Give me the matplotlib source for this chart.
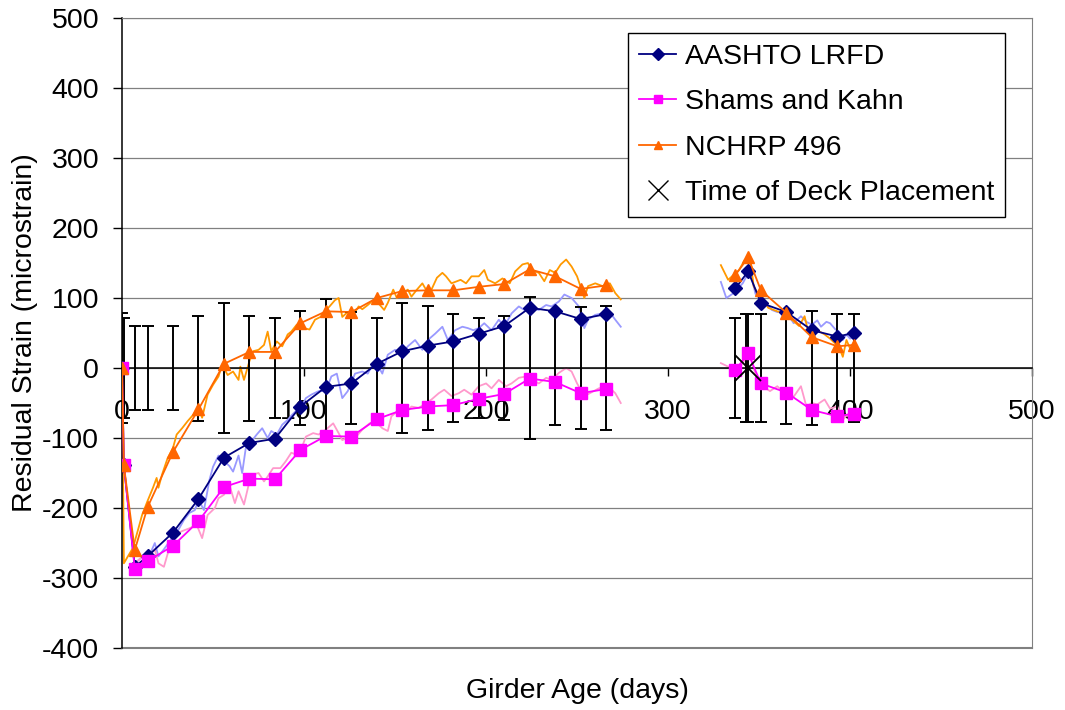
import matplotlib
matplotlib.use('Agg')
import matplotlib.pyplot as plt
import numpy as np

plt.rcParams['font.family'] = ['Liberation Sans', 'DejaVu Sans']
plt.rcParams['font.size'] = 20.5
plt.rcParams['axes.unicode_minus'] = False

# predicted residual strain at the reading dates (before deck)
days_a = [0, 1, 7, 14, 28, 42, 56, 70, 84, 98, 112, 126, 140, 154, 168, 182, 196, 210, 224, 238, 252, 266]
lrfd_a = [0, -139, -284, -269, -235, -187, -128, -107, -101, -55, -27, -22, 6, 24, 32, 38, 49, 60, 86, 81, 70, 77]
shams_a = [0, -139, -287, -276, -254, -219, -170, -158, -159, -117, -97, -98, -73, -60, -55, -53, -44, -37, -15, -20, -36, -30]
nchrp_a = [0, -139, -260, -199, -120, -59, 6, 23, 23, 64, 81, 80, 100, 110, 111, 111, 116, 120, 141, 131, 113, 118]

# after deck placement
days_b = [337, 344, 351, 365, 379, 393, 402]
lrfd_b = [114, 138, 93, 80, 54, 45, 50]
shams_b = [-3, 21, -22, -35, -60, -69, -65]
nchrp_b = [133, 158, 111, 79, 44, 31, 33]

# scatter of the gauge readings (+/- about zero)
bar_days = [0, 1, 7, 14, 28, 42, 56, 70, 84, 98, 112, 126, 140, 154, 168, 182, 196, 210, 224, 238,
            252, 266, 337, 343, 344, 351, 365, 379, 393, 402]
bar_half = [78, 72, 60, 60, 60, 75, 93, 75, 72, 81, 98, 80, 72, 93, 88, 77, 72, 74, 102, 82,
            87, 88, 72, 77, 77, 77, 80, 81, 77, 77]

deck_day = [344]
deck_strain = [0]

# daily predictions (temperature corrected)
lrfd_days1 = [7, 11, 16, 18, 20, 23, 28, 31, 34, 37,
              40, 42, 45, 48, 50, 53, 56, 59, 61, 64,
              66, 68, 71, 74, 77, 80, 82, 85, 88, 91,
              93, 96, 99, 101, 104, 108, 112, 115, 118, 121,
              124, 128, 132, 135, 139, 143, 146, 150, 154, 157,
              161, 165, 168, 172, 176, 179, 183, 187, 190, 193,
              196, 199, 203, 207, 210, 214, 218, 221, 225, 229,
              233, 236, 240, 243, 247, 251, 254, 256, 260, 264,
              267, 271, 274]
lrfd_daily1 = [-279, -270, -262, -250, -269, -259, -241, -231, -217, -207,
               -203, -188, -203, -160, -141, -125, -133, -140, -148, -125,
               -150, -114, -105, -95, -86, -100, -90, -95, -81, -74,
               -68, -60, -53, -43, -38, -33, -33, -12, -8, -43,
               -33, -8, -5, -8, 11, -8, 19, 26, 21, 31,
               40, 26, 40, 49, 59, 40, 54, 59, 57, 54,
               57, 64, 54, 69, 59, 78, 88, 83, 85, 83,
               90, 88, 95, 105, 100, 88, 57, 69, 76, 78,
               83, 69, 59]

shams_days1 = [7, 11, 15, 18, 20, 23, 26, 29, 33, 37,
               41, 44, 47, 51, 53, 56, 59, 62, 64, 67,
               70, 72, 75, 78, 80, 83, 87, 90, 93, 96,
               99, 101, 105, 108, 112, 116, 119, 121, 125, 128,
               132, 136, 139, 143, 146, 148, 152, 156, 159, 163,
               167, 170, 174, 177, 181, 185, 188, 192, 196, 200,
               203, 207, 211, 214, 218, 222, 225, 229, 233, 236,
               240, 244, 247, 250, 254, 257, 262, 267, 271, 274]
shams_daily1 = [-279, -270, -268, -259, -279, -284, -257, -238, -233, -229,
                -224, -243, -210, -200, -186, -181, -167, -193, -176, -195,
                -162, -152, -150, -162, -155, -143, -143, -133, -121, -124,
                -112, -98, -93, -95, -88, -79, -93, -103, -98, -100,
                -88, -79, -76, -86, -90, -69, -60, -64, -55, -57,
                -50, -45, -36, -31, -40, -36, -31, -38, -26, -22,
                -29, -17, -26, -22, -14, -12, -17, -22, -14, -17,
                -7, 0, -5, -22, -40, -36, -29, -26, -36, -50]

nchrp_days1 = [0, 1, 3, 6, 9, 11, 14, 17, 19, 20,
               22, 25, 28, 30, 33, 36, 39, 42, 44, 47,
               50, 53, 55, 58, 61, 64, 65, 67, 70, 72,
               75, 78, 80, 82, 85, 88, 91, 93, 96, 100,
               103, 106, 109, 111, 114, 117, 119, 121, 124, 127,
               130, 132, 135, 138, 141, 144, 146, 149, 151, 154,
               157, 159, 162, 165, 167, 170, 173, 176, 178, 181,
               184, 186, 189, 192, 196, 199, 201, 205, 209, 213,
               216, 220, 223, 225, 229, 232, 235, 238, 241, 244,
               247, 250, 254, 256, 260, 264, 268, 271, 274]
nchrp_daily1 = [0, -279, -270, -257, -229, -210, -190, -171, -157, -171,
                -152, -129, -114, -95, -86, -76, -67, -57, -71, -38,
                -24, -12, 5, -10, -5, -17, 2, -17, 10, 24,
                26, 33, 52, 24, 38, 31, 48, 52, 62, 57,
                55, 69, 73, 80, 88, 97, 100, 73, 80, 76,
                88, 84, 90, 97, 92, 83, 93, 112, 100, 107,
                112, 102, 112, 121, 112, 112, 129, 136, 131, 121,
                124, 126, 121, 131, 131, 140, 126, 121, 128, 121,
                138, 148, 150, 140, 136, 124, 140, 136, 148, 155,
                145, 131, 100, 117, 121, 117, 121, 107, 98]

lrfd_days2 = [329, 332, 336, 341, 345, 348, 351, 354, 357, 360, 364, 367, 369,
              373, 376, 379, 382, 384, 387, 389, 392, 394, 396, 398, 400, 402]
lrfd_daily2 = [123, 100, 107, 121, 140, 106, 100, 92, 83, 80, 79, 72, 64,
               74, 66, 62, 68, 59, 66, 64, 55, 52, 40, 48, 42, 45]

shams_days2 = [329, 333, 336, 339, 342, 345, 347, 349, 352, 356, 360, 364,
               369, 373, 376, 379, 382, 386, 389, 393, 396, 398, 400, 402]
shams_daily2 = [7, 2, -7, 0, 11, 21, 0, -17, -26, -33, -26, -36,
                -41, -26, -55, -50, -52, -45, -58, -55, -74, -68, -67, -62]

nchrp_days2 = [329, 333, 336, 339, 342, 345, 347, 349, 352, 355, 360, 364, 368,
               372, 375, 377, 379, 382, 386, 389, 391, 394, 396, 398, 400, 402]
nchrp_daily2 = [147, 126, 133, 140, 154, 160, 117, 108, 100, 86, 81, 78, 69,
                60, 74, 52, 46, 54, 48, 42, 37, 30, 16, 40, 28, 33]

fig = plt.figure(figsize=(10.65, 7.1), dpi=100)
ax = fig.add_axes([0.1146, 0.0873, 0.8545, 0.8873])

# error bars
plt.errorbar(bar_days, np.zeros(len(bar_days)), yerr=bar_half, fmt='none',
             ecolor='black', elinewidth=1.4, capsize=4, capthick=1.4, zorder=3)

# daily lines
plt.plot(lrfd_days1, lrfd_daily1, color='#9999ff', lw=1.3, zorder=2)
plt.plot(lrfd_days2, lrfd_daily2, color='#9999ff', lw=1.3, zorder=2)
plt.plot(shams_days1, shams_daily1, color='#ff99cc', lw=1.3, zorder=2)
plt.plot(shams_days2, shams_daily2, color='#ff99cc', lw=1.3, zorder=2)
plt.plot(nchrp_days1, nchrp_daily1, color='#ff9900', lw=1.3, zorder=2)
plt.plot(nchrp_days2, nchrp_daily2, color='#ff9900', lw=1.3, zorder=2)

# predicted series
plt.plot(days_a, lrfd_a, color='#000080', marker='D', ms=6.8, lw=1.3, zorder=4, label='AASHTO LRFD')
plt.plot(days_b, lrfd_b, color='#000080', marker='D', ms=6.8, lw=1.3, zorder=4)
plt.plot(days_a, shams_a, color='#ff00ff', marker='s', ms=8, lw=1.3, zorder=4, label='Shams and Kahn')
plt.plot(days_b, shams_b, color='#ff00ff', marker='s', ms=8, lw=1.3, zorder=4)
plt.plot(days_a, nchrp_a, color='#ff6600', marker='^', ms=9, lw=1.3, zorder=4, label='NCHRP 496')
plt.plot(days_b, nchrp_b, color='#ff6600', marker='^', ms=9, lw=1.3, zorder=4)

plt.plot(deck_day, deck_strain, 'x', color='black', ms=19, mew=1.3, zorder=5,
         label='Time of Deck Placement')

plt.xlim(0, 500)
plt.ylim(-400, 500)
plt.xticks(np.arange(0, 501, 100))
plt.yticks(np.arange(-400, 501, 100))
plt.grid(axis='y', color='#808080', lw=0.9)
ax.set_axisbelow(True)

# x axis runs through zero, plot area frame in gray
ax.spines['bottom'].set_position(('data', 0))
ax.spines['bottom'].set_color('black')
ax.spines['bottom'].set_linewidth(1.1)
ax.spines['left'].set_color('black')
ax.spines['left'].set_linewidth(1.1)
ax.spines['top'].set_color('#808080')
ax.spines['right'].set_color('#808080')
ax.axhline(-400, color='#808080', lw=1.5, clip_on=False, zorder=1)
ax.tick_params(axis='x', direction='out', length=6, width=1, pad=16)
ax.tick_params(axis='y', direction='out', length=6.5, width=1, pad=10)

plt.xlabel('Girder Age (days)')
ax.xaxis.set_label_coords(0.5, -0.047)
plt.ylabel('Residual Strain (microstrain)')
ax.yaxis.set_label_coords(-0.092, 0.5)

leg = plt.legend(loc='upper right', bbox_to_anchor=(0.970, 0.976), borderaxespad=0,
                 fancybox=False, edgecolor='black', framealpha=1, numpoints=1,
                 handlelength=1.3, handletextpad=0.3, labelspacing=0.68,
                 borderpad=0.38, fontsize=20.5)
leg.get_frame().set_linewidth(1.0)
for h in leg.legend_handles[:3]:
    h.set_markersize(6)
leg.legend_handles[3].set_markersize(14)
leg.legend_handles[3].set_markeredgewidth(1.0)

plt.savefig('out.png', dpi=100)
